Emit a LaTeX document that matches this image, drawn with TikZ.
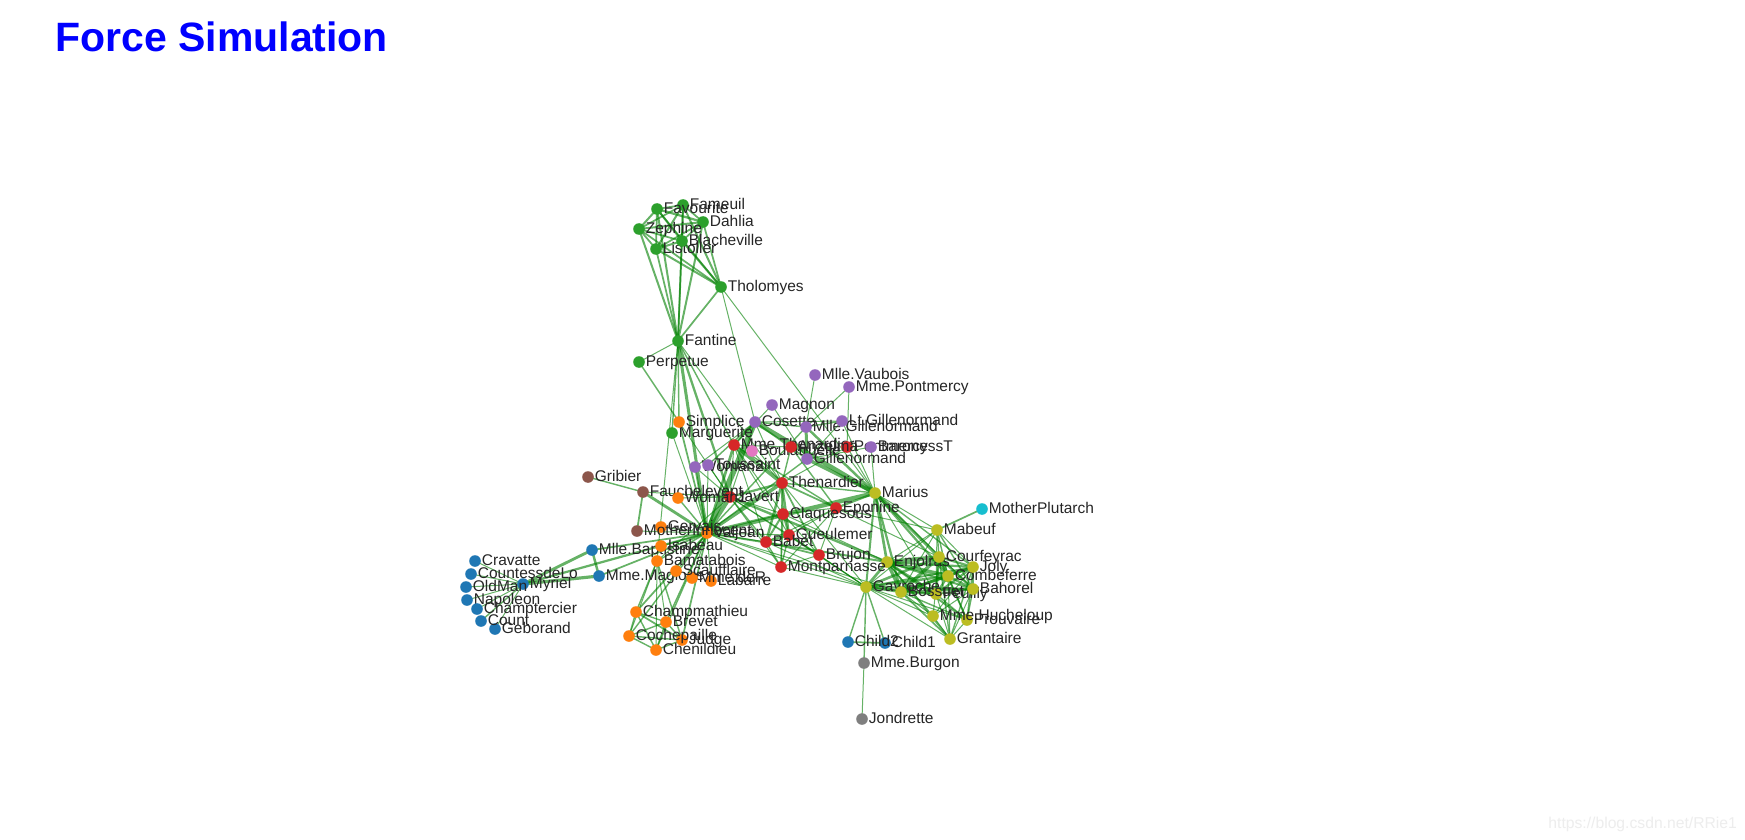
\documentclass[tikz,border=0pt]{standalone}
\usepackage{fontspec}
\setmainfont{Liberation Sans}
\pgfdeclarelayer{background}
\pgfsetlayers{background,main}
\definecolor{cA}{HTML}{1F77B4}
\definecolor{cB}{HTML}{FF7F0E}
\definecolor{cC}{HTML}{2CA02C}
\definecolor{cD}{HTML}{D62728}
\definecolor{cE}{HTML}{9467BD}
\definecolor{cF}{HTML}{8C564B}
\definecolor{cG}{HTML}{E377C2}
\definecolor{cH}{HTML}{7F7F7F}
\definecolor{cI}{HTML}{BCBD22}
\definecolor{cJ}{HTML}{17BECF}
\definecolor{linkgreen}{HTML}{008000}
\definecolor{titleblue}{HTML}{0000FF}
\definecolor{wmark}{HTML}{EDEDED}
\tikzset{
  dot/.style={circle, minimum size=5.8pt, inner sep=0pt, draw=none},
  lbl/.style={anchor=base west, inner sep=0pt, text=black!85, font=\fontsize{7.75pt}{9pt}\selectfont},
  lk/.style={draw=linkgreen, draw opacity=0.6, line width={0.5pt*sqrt(#1)}},
}
\begin{document}
\begin{tikzpicture}[x=0.5pt,y=-0.5pt]
\useasboundingbox (0,0) rectangle (1745,840);
\node[anchor=base west, inner sep=0pt, text=titleblue, font=\fontsize{20.5pt}{24pt}\selectfont\bfseries] (title) at (55,52) {Force Simulation};
\node[anchor=base west, inner sep=0pt, text=wmark, font=\fontsize{7.85pt}{9pt}\selectfont] (wm) at (1548,828) {https://blog.csdn.net/RRie1};
\foreach \id/\x/\y/\c/\lab in {
Myriel/523/584/cA/Myriel,
Napoleon/467/600/cA/Napoleon,
MlleBaptistine/592/550/cA/Mlle.Baptistine,
MmeMagloire/599/576/cA/Mme.Magloire,
CountessdeLo/471/574/cA/CountessdeLo,
Geborand/495/629/cA/Geborand,
Champtercier/477/609/cA/Champtercier,
Cravatte/475/561/cA/Cravatte,
Count/481/621/cA/Count,
OldMan/466/587/cA/OldMan,
Labarre/711/581/cB/Labarre,
Valjean/707/533/cB/Valjean,
Marguerite/672/433/cC/Marguerite,
MmedeR/692/578/cB/Mme.deR,
Isabeau/661/546/cB/Isabeau,
Gervais/661/527/cB/Gervais,
Tholomyes/721/287/cC/Tholomyes,
Listolier/656/249/cC/Listolier,
Fameuil/683/205/cC/Fameuil,
Blacheville/682/241/cC/Blacheville,
Favourite/657/209/cC/Favourite,
Dahlia/703/222/cC/Dahlia,
Zephine/639/229/cC/Zephine,
Fantine/678/341/cC/Fantine,
MmeThenardier/734/445/cD/Mme.Thenardier,
Thenardier/782/483/cD/Thenardier,
Cosette/755/422/cE/Cosette,
Javert/730/497/cD/Javert,
Fauchelevent/643/492/cF/Fauchelevent,
Bamatabois/657/561/cB/Bamatabois,
Perpetue/639/362/cC/Perpetue,
Simplice/679/422/cB/Simplice,
Scaufflaire/676/571/cB/Scaufflaire,
Woman1/678/498/cB/Woman1,
Judge/682/640/cB/Judge,
Champmathieu/636/612/cB/Champmathieu,
Brevet/666/622/cB/Brevet,
Chenildieu/656/650/cB/Chenildieu,
Cochepaille/629/636/cB/Cochepaille,
Pontmercy/847/447/cD/Pontmercy,
Boulatruelle/752/451/cG/Boulatruelle,
Eponine/836/508/cD/Eponine,
Anzelma/791/447/cD/Anzelma,
Woman2/695/467/cE/Woman2,
MotherInnocent/637/531/cF/MotherInnocent,
Gribier/588/477/cF/Gribier,
Jondrette/862/719/cH/Jondrette,
MmeBurgon/864/663/cH/Mme.Burgon,
Gavroche/866/587/cI/Gavroche,
Gillenormand/807/459/cE/Gillenormand,
Magnon/772/405/cE/Magnon,
MlleGillenormand/806/427/cE/Mlle.Gillenormand,
MmePontmercy/849/387/cE/Mme.Pontmercy,
MlleVaubois/815/375/cE/Mlle.Vaubois,
LtGillenormand/842/421/cE/Lt.Gillenormand,
Marius/875/493/cI/Marius,
BaronessT/871/447/cE/BaronessT,
Mabeuf/937/530/cI/Mabeuf,
Enjolras/887/562/cI/Enjolras,
Combeferre/948/576/cI/Combeferre,
Prouvaire/967/620/cI/Prouvaire,
Feuilly/936/594/cI/Feuilly,
Courfeyrac/939/557/cI/Courfeyrac,
Bahorel/973/589/cI/Bahorel,
Bossuet/901/592/cI/Bossuet,
Joly/973/567/cI/Joly,
Grantaire/950/639/cI/Grantaire,
MotherPlutarch/982/509/cJ/MotherPlutarch,
Gueulemer/789/535/cD/Gueulemer,
Babet/766/542/cD/Babet,
Claquesous/783/514/cD/Claquesous,
Montparnasse/781/567/cD/Montparnasse,
Toussaint/708/465/cE/Toussaint,
Child1/885/643/cA/Child1,
Child2/848/642/cA/Child2,
Brujon/819/555/cD/Brujon,
MmeHucheloup/933/616/cI/Mme.Hucheloup}
{
  \node[dot, fill=\c] (\id) at (\x,\y) {};
  \node[lbl] (\id-l) at (\x+6.5,\y+4.5) {\lab};
}
\begin{pgfonlayer}{background}
\fill[white] (0,0) rectangle (1745,840);
\foreach \sa/\ta/\va in {
Napoleon/Myriel/1, MlleBaptistine/Myriel/8, MmeMagloire/Myriel/10, MmeMagloire/MlleBaptistine/6, CountessdeLo/Myriel/1, Geborand/Myriel/1, Champtercier/Myriel/1, Cravatte/Myriel/1, Count/Myriel/2, OldMan/Myriel/1,
Valjean/Labarre/1, Valjean/MmeMagloire/3, Valjean/MlleBaptistine/3, Valjean/Myriel/5, Marguerite/Valjean/1, MmedeR/Valjean/1, Isabeau/Valjean/1, Gervais/Valjean/1,
Listolier/Tholomyes/4, Fameuil/Tholomyes/4, Fameuil/Listolier/4, Blacheville/Tholomyes/4, Blacheville/Listolier/4, Blacheville/Fameuil/4, Favourite/Tholomyes/3, Favourite/Listolier/3, Favourite/Fameuil/3, Favourite/Blacheville/4, Dahlia/Tholomyes/3, Dahlia/Listolier/3, Dahlia/Fameuil/3, Dahlia/Blacheville/3, Dahlia/Favourite/5, Zephine/Tholomyes/3, Zephine/Listolier/3, Zephine/Fameuil/3, Zephine/Blacheville/3, Zephine/Favourite/4, Zephine/Dahlia/4,
Fantine/Tholomyes/3, Fantine/Listolier/3, Fantine/Fameuil/3, Fantine/Blacheville/3, Fantine/Favourite/4, Fantine/Dahlia/4, Fantine/Zephine/4, Fantine/Marguerite/2, Fantine/Valjean/9,
MmeThenardier/Fantine/2, MmeThenardier/Valjean/7, Thenardier/MmeThenardier/13, Thenardier/Fantine/1, Thenardier/Valjean/12, Cosette/MmeThenardier/4, Cosette/Valjean/31, Cosette/Tholomyes/1, Cosette/Thenardier/1,
Javert/Valjean/17, Javert/Fantine/5, Javert/Thenardier/5, Javert/MmeThenardier/1, Javert/Cosette/1, Fauchelevent/Valjean/8, Fauchelevent/Javert/1, Bamatabois/Fantine/1, Bamatabois/Javert/1, Bamatabois/Valjean/2,
Perpetue/Fantine/1, Simplice/Perpetue/2, Simplice/Valjean/3, Simplice/Fantine/2, Simplice/Javert/1, Scaufflaire/Valjean/1, Woman1/Valjean/2, Woman1/Javert/1, Judge/Valjean/3, Judge/Bamatabois/2,
Champmathieu/Valjean/3, Champmathieu/Judge/3, Champmathieu/Bamatabois/2, Brevet/Judge/2, Brevet/Champmathieu/2, Brevet/Valjean/2, Brevet/Bamatabois/1, Chenildieu/Judge/2, Chenildieu/Champmathieu/2, Chenildieu/Brevet/2, Chenildieu/Valjean/2, Chenildieu/Bamatabois/1,
Cochepaille/Judge/2, Cochepaille/Champmathieu/2, Cochepaille/Brevet/2, Cochepaille/Chenildieu/2, Cochepaille/Valjean/2, Cochepaille/Bamatabois/1,
Pontmercy/Thenardier/1, Boulatruelle/Thenardier/1, Eponine/MmeThenardier/2, Eponine/Thenardier/3, Anzelma/Eponine/2, Anzelma/Thenardier/2, Anzelma/MmeThenardier/1, Woman2/Valjean/3, Woman2/Cosette/1, Woman2/Javert/1,
MotherInnocent/Fauchelevent/3, MotherInnocent/Valjean/1, Gribier/Fauchelevent/2, MmeBurgon/Jondrette/1, Gavroche/MmeBurgon/2, Gavroche/Thenardier/1, Gavroche/Javert/1, Gavroche/Valjean/1,
Gillenormand/Cosette/3, Gillenormand/Valjean/2, Magnon/Gillenormand/1, Magnon/MmeThenardier/1, MlleGillenormand/Gillenormand/9, MlleGillenormand/Cosette/2, MlleGillenormand/Valjean/2, MmePontmercy/MlleGillenormand/1, MmePontmercy/Pontmercy/1, MlleVaubois/MlleGillenormand/1,
LtGillenormand/MlleGillenormand/2, LtGillenormand/Gillenormand/1, LtGillenormand/Cosette/1,
Marius/MlleGillenormand/6, Marius/Gillenormand/12, Marius/Pontmercy/1, Marius/LtGillenormand/1, Marius/Cosette/21, Marius/Valjean/19, Marius/Tholomyes/1, Marius/Thenardier/2, Marius/Eponine/5, Marius/Gavroche/4,
BaronessT/Gillenormand/1, BaronessT/Marius/1, Mabeuf/Marius/1, Mabeuf/Eponine/1, Mabeuf/Gavroche/1,
Enjolras/Marius/7, Enjolras/Gavroche/7, Enjolras/Javert/6, Enjolras/Mabeuf/1, Enjolras/Valjean/4, Combeferre/Enjolras/15, Combeferre/Marius/5, Combeferre/Gavroche/6, Combeferre/Mabeuf/2,
Prouvaire/Gavroche/1, Prouvaire/Enjolras/4, Prouvaire/Combeferre/2, Feuilly/Gavroche/2, Feuilly/Enjolras/6, Feuilly/Prouvaire/2, Feuilly/Combeferre/5, Feuilly/Mabeuf/1, Feuilly/Marius/1,
Courfeyrac/Marius/9, Courfeyrac/Enjolras/17, Courfeyrac/Combeferre/13, Courfeyrac/Gavroche/7, Courfeyrac/Mabeuf/2, Courfeyrac/Eponine/1, Courfeyrac/Feuilly/6, Courfeyrac/Prouvaire/3,
Bahorel/Combeferre/5, Bahorel/Gavroche/5, Bahorel/Courfeyrac/6, Bahorel/Mabeuf/2, Bahorel/Enjolras/4, Bahorel/Feuilly/3, Bahorel/Prouvaire/2, Bahorel/Marius/1,
Bossuet/Marius/5, Bossuet/Courfeyrac/12, Bossuet/Gavroche/5, Bossuet/Bahorel/4, Bossuet/Enjolras/10, Bossuet/Feuilly/6, Bossuet/Prouvaire/2, Bossuet/Combeferre/9, Bossuet/Mabeuf/1, Bossuet/Valjean/1,
Joly/Bahorel/5, Joly/Bossuet/7, Joly/Gavroche/3, Joly/Courfeyrac/5, Joly/Enjolras/5, Joly/Feuilly/5, Joly/Prouvaire/2, Joly/Combeferre/5, Joly/Mabeuf/1, Joly/Marius/2,
Grantaire/Bossuet/3, Grantaire/Enjolras/3, Grantaire/Combeferre/1, Grantaire/Courfeyrac/2, Grantaire/Joly/2, Grantaire/Gavroche/1, Grantaire/Bahorel/1, Grantaire/Feuilly/1, Grantaire/Prouvaire/1,
MotherPlutarch/Mabeuf/3, Gueulemer/Thenardier/5, Gueulemer/Valjean/1, Gueulemer/MmeThenardier/1, Gueulemer/Javert/1, Gueulemer/Gavroche/1, Gueulemer/Eponine/1,
Babet/Thenardier/6, Babet/Gueulemer/6, Babet/Valjean/1, Babet/MmeThenardier/1, Babet/Javert/2, Babet/Gavroche/1, Babet/Eponine/1,
Claquesous/Thenardier/4, Claquesous/Babet/4, Claquesous/Gueulemer/4, Claquesous/Valjean/1, Claquesous/MmeThenardier/1, Claquesous/Javert/1, Claquesous/Eponine/1, Claquesous/Enjolras/1,
Montparnasse/Javert/1, Montparnasse/Babet/2, Montparnasse/Gueulemer/2, Montparnasse/Claquesous/2, Montparnasse/Valjean/1, Montparnasse/Gavroche/1, Montparnasse/Eponine/1, Montparnasse/Thenardier/1,
Toussaint/Cosette/2, Toussaint/Javert/1, Toussaint/Valjean/1, Child1/Gavroche/2, Child2/Gavroche/2, Child2/Child1/3,
Brujon/Babet/3, Brujon/Gueulemer/3, Brujon/Thenardier/3, Brujon/Gavroche/1, Brujon/Eponine/1, Brujon/Claquesous/1, Brujon/Montparnasse/1,
MmeHucheloup/Bossuet/1, MmeHucheloup/Joly/1, MmeHucheloup/Grantaire/1, MmeHucheloup/Bahorel/1, MmeHucheloup/Courfeyrac/1, MmeHucheloup/Gavroche/1, MmeHucheloup/Enjolras/1}
{
  \draw[lk=\va] (\sa.center) -- (\ta.center);
}
\end{pgfonlayer}
\end{tikzpicture}
\end{document}
